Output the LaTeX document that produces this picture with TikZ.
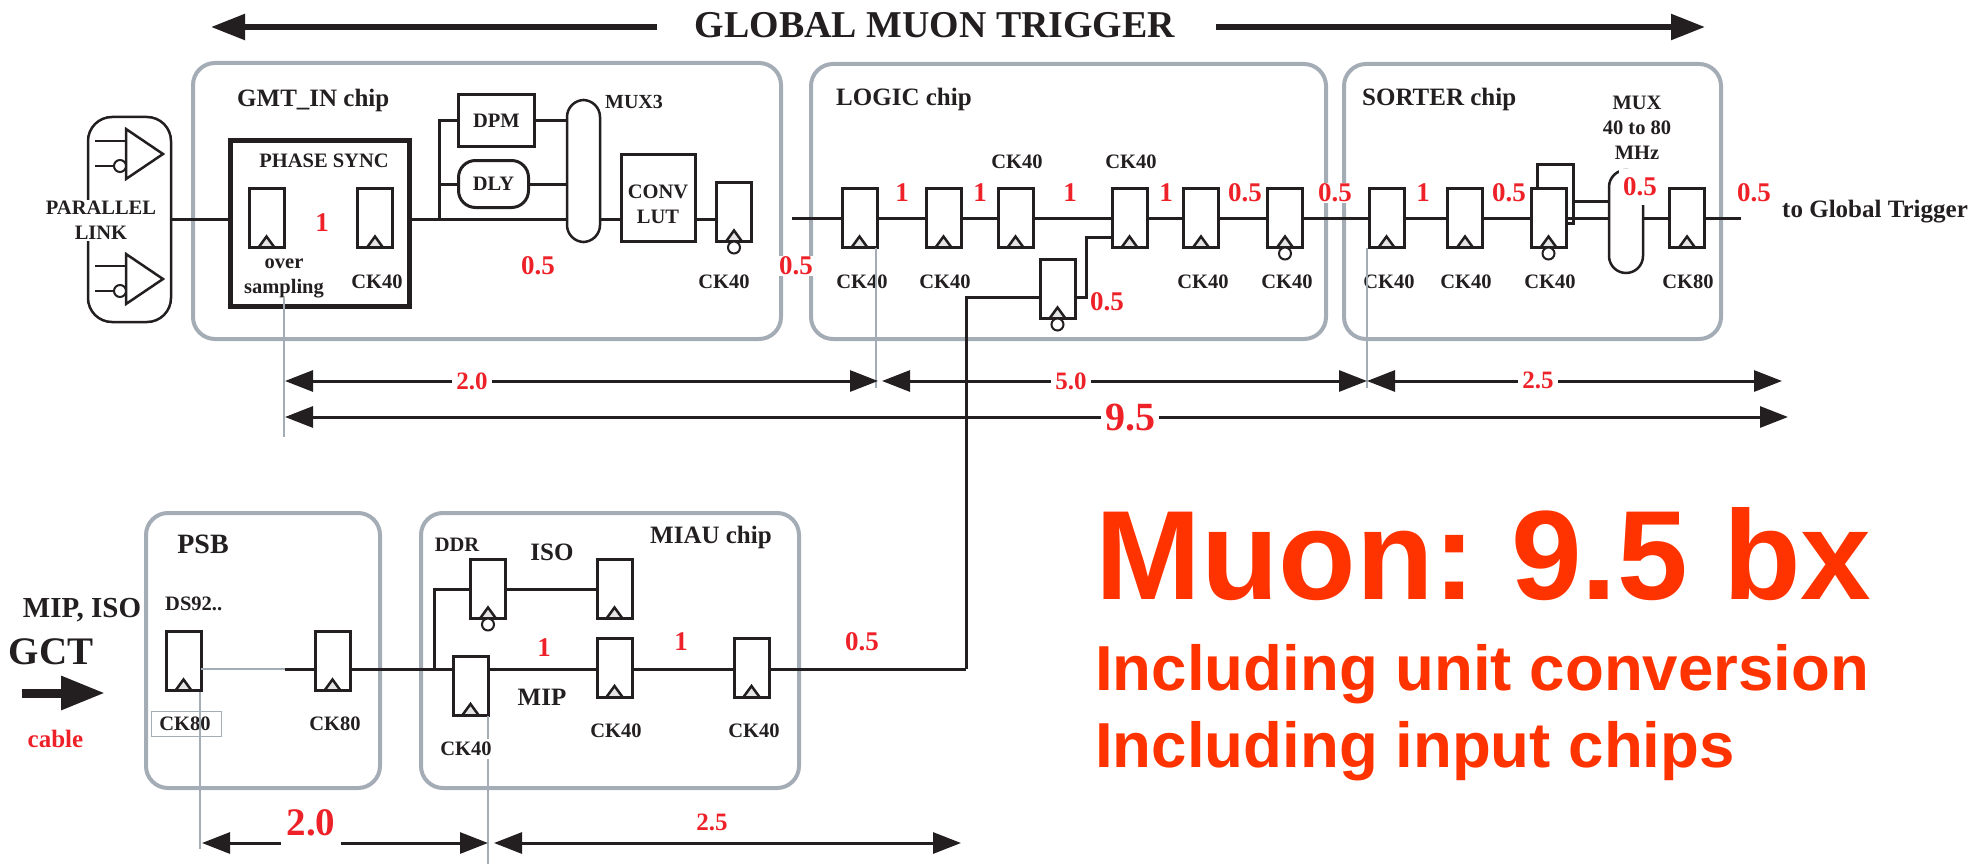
\documentclass[tikz,border=0pt]{standalone}
\usepackage{fontspec}
\setmainfont{Liberation Serif}
\newfontfamily\bigsans{Liberation Sans}
\usepackage{xcolor}
\usetikzlibrary{arrows.meta, positioning}
\definecolor{chipgray}{HTML}{A4ACB5}
\definecolor{inkblack}{HTML}{231F20}
\definecolor{delayred}{HTML}{ED2127}
\definecolor{bigred}{HTML}{FF3300}
\newcommand{\txtsize}[1]{\bfseries\fontsize{#1}{#1}\selectfont}
\tikzset{
  chipbox/.style={draw=chipgray, line width=4pt, rounded corners=22pt, anchor=north west, inner sep=0pt, outer sep=0pt},
  ffbox/.style={draw=inkblack, fill=white, line width=3pt, minimum width=35pt, minimum height=59pt, inner sep=0pt, outer sep=0pt,
    path picture={\draw[inkblack, line width=2.5pt, fill=black!10]
      ([xshift=-8pt]path picture bounding box.south) -- ([yshift=11pt]path picture bounding box.south)
      -- ([xshift=8pt]path picture bounding box.south);}},
  bubble/.style={draw=inkblack, fill=white, circle, line width=2pt, minimum size=12pt, inner sep=0pt, outer sep=0pt},
  blockbox/.style={draw=inkblack, line width=3pt, fill=white, inner sep=0pt, outer sep=0pt, anchor=north west, text=inkblack, font=\txtsize{20.5}},
  wire/.style={draw=inkblack, line width=3pt},
  graybar/.style={draw=chipgray, line width=2.5pt},
  dimline/.style={draw=inkblack, line width=3pt, {Triangle[length=28pt,width=21pt]}-{Triangle[length=28pt,width=21pt]}},
  cklabel/.style={text=inkblack, font=\txtsize{20.5}, inner sep=0pt, align=center},
  chiplabel/.style={text=inkblack, font=\txtsize{25}, inner sep=0pt},
  delay/.style={text=delayred, font=\txtsize{27}, fill=white, inner sep=1pt},
  dimtag/.style={text=delayred, font=\txtsize{25}, fill=white, inner sep=4pt},
  bigtag/.style={anchor=base west, inner sep=0pt, text=bigred},
}
\begin{document}
\frenchspacing
\begin{tikzpicture}[x=1pt, y=-1pt]
  \useasboundingbox (0,0) rectangle (1977,864);
  % ---------- TITLE ----------
  \node[text=inkblack, font=\txtsize{37.9}] (title) at (935,25) {GLOBAL MUON TRIGGER};
  \coordinate (TL) at (657,27);
  \coordinate (TLtip) at (211,27);
  \coordinate (TR) at (1216,27);
  \coordinate (TRtip) at (1705,27);
  \draw[inkblack, line width=5.5pt, -{Triangle[length=34pt,width=25pt]}] (TL) -- (TLtip);
  \draw[inkblack, line width=5.5pt, -{Triangle[length=34pt,width=25pt]}] (TR) -- (TRtip);
  % ---------- CHIP BOXES ----------
  \node[chipbox, minimum width=588pt, minimum height=276pt] (gmtchip) at (193,63) {};
  \node[chipbox, minimum width=515pt, minimum height=275pt] (logicchip) at (811,64) {};
  \node[chipbox, minimum width=377pt, minimum height=275pt] (sortchip) at (1344,64) {};
  \node[chipbox, minimum width=234pt, minimum height=275pt] (psbchip) at (146,513) {};
  \node[chipbox, minimum width=378pt, minimum height=275pt] (miauchip) at (421,513) {};
  % ---------- PARALLEL LINK ----------
  \node[draw=inkblack, line width=2.5pt, rounded corners=24pt, anchor=north west, minimum width=83pt, minimum height=205pt, inner sep=0pt, outer sep=0pt] (linkbox) at (88,117) {};
  \foreach \n/\y in {up/154,lo/279} {
    \coordinate (\n t) at (163,\y);
    \coordinate (\n a) at (126,\y-25);
    \coordinate (\n b) at (126,\y+25);
    \coordinate (\n c) at (95,\y-13);
    \coordinate (\n d) at (95,\y+12);
    \draw[inkblack, line width=2.5pt] (\n a) -- (\n t) -- (\n b) -- cycle;
    \draw[inkblack, line width=2.5pt] (\n c) -- (\n c -| \n a);
    \draw[inkblack, line width=2.5pt] (\n d) -- (\n d -| \n a);
    \node[bubble] (\n bub) at (120,\y+12) {};
  }
  \node[cklabel, fill=white, inner sep=1pt] (linktxt) at (101,220.5) {PARALLEL\\[4.5pt]LINK};
  % ---------- GMT_IN ----------
  \node[chiplabel, anchor=base west] (gmttxt) at (237,107) {GMT\_IN chip};
  \node[draw=inkblack, line width=5pt, anchor=north west, minimum width=179pt, minimum height=166pt, inner sep=0pt, outer sep=0pt] (phase) at (230.5,140.5) {};
  \node[cklabel] (phasetxt) at (324,161) {PHASE SYNC};
  \node[ffbox] (ovs) at (266.5,218) {};
  \node[ffbox] (pck) at (375,218) {};
  \node[delay] (d1) at (322,223) {1};
  \node[cklabel] (ovstxt) at (284,278) {over\\[4.5pt]sampling};
  \node[cklabel] (pcktxt) at (377,282) {CK40};
  \node[blockbox, minimum width=76pt, minimum height=52pt] (dpm) at (458.5,94.5) {DPM};
  \node[blockbox, rounded corners=17pt, minimum width=70pt, minimum height=47pt] (dly) at (458.5,160.5) {DLY};
  \node[blockbox, rounded corners=17pt, line width=2.5pt, minimum width=33pt, minimum height=142pt] (muxa) at (567,100) {};
  \node[cklabel, font=\txtsize{20}] (muxatxt) at (634,102) {MUX3};
  \node[blockbox, minimum width=74pt, minimum height=87pt] (conv) at (621.5,154.5) {};
  \node[cklabel] (convtxt) at (658,204.5) {CONV\\[4.5pt]LUT};
  \node[ffbox] (gmtout) at (734,212) {};
  \node[bubble, below=0pt of gmtout] (gmtbub) {};
  \node[cklabel] (gmtck) at (724,282) {CK40};
  \coordinate (GMTs) at (439,219);
  \draw[wire] (linkbox.east |- GMTs) -- (phase.west |- GMTs);
  \draw[wire] (phase.east |- GMTs) -- (muxa.west |- GMTs);
  \draw[wire] (muxa.east |- GMTs) -- (conv.west |- GMTs);
  \draw[wire] (conv.east |- GMTs) -- (gmtout.west |- GMTs);
  \draw[wire] (GMTs) |- (dpm.west);
  \draw[wire] (GMTs) |- (dly.west);
  \draw[wire] (dpm.east) -- (muxa.west |- dpm.east);
  \draw[wire] (dly.east) -- (muxa.west |- dly.east);
  \node[delay] (d2) at (538,266) {0.5};
  \node[delay] (d3) at (796,266) {0.5};
  % ---------- LOGIC ----------
  \node[chiplabel, anchor=base west] (logictxt) at (836,106) {LOGIC chip};
  \foreach \n/\x in {la/859.5,lb/943.5,lc/1015.5,ld/1129.5,le/1201,lf/1285} \node[ffbox] (\n) at (\x,218) {};
  \node[ffbox] (lg) at (1057.5,289) {};
  \node[bubble, below=0pt of lf] (lfbub) {};
  \node[bubble, below=0pt of lg] (lgbub) {};
  \coordinate (LOin) at (792,218);
  \coordinate (LOgate) at (1086,237);
  \coordinate (LOlow) at (1057.5,297);
  \coordinate (LOdown) at (966,669);
  \draw[wire] (LOin) -- (la.west);
  \draw[wire] (la.east) -- (lb.west);
  \draw[wire] (lb.east) -- (lc.west);
  \draw[wire] (lc.east) -- (ld.west);
  \draw[wire] (ld.east) -- (le.west);
  \draw[wire] (le.east) -- (lf.west);
  \draw[wire] (lg.east |- LOlow) -| (LOgate) -- (LOgate -| ld.west);
  \draw[wire] (lg.west |- LOlow) -| (LOdown);
  \foreach \n/\x in {ca/862,cb/945,ce/1203,cf/1287} \node[cklabel] (\n) at (\x,282) {CK40};
  \foreach \n/\x in {cc/1017,cd/1131} \node[cklabel] (\n) at (\x,162) {CK40};
  \foreach \n/\x/\t in {la1/902/1,la2/980/1,la3/1070/1,la4/1166/1,la5/1245/0.5} \node[delay, fill=none] (\n) at (\x,193) {\t};
  \node[delay] (d4) at (1107,302) {0.5};
  \node[delay] (d5) at (1335,193) {0.5};
  % ---------- SORTER ----------
  \node[chiplabel, anchor=base west] (sorttxt) at (1362,106) {SORTER chip};
  \node[draw=inkblack, line width=3pt, anchor=north west, minimum width=36pt, minimum height=59pt, inner sep=0pt, outer sep=0pt] (sortloop) at (1537,164) {};
  \foreach \n/\x in {sa/1386.5,sb/1465,sc/1548.5,sd/1687} \node[ffbox] (\n) at (\x,218) {};
  \node[bubble, below=0pt of sc] (scbub) {};
  \node[draw=inkblack, fill=white, line width=2.5pt, rounded corners=17pt, anchor=north west, minimum width=34pt, minimum height=103pt, inner sep=0pt, outer sep=0pt] (muxb) at (1609,170) {};
  \coordinate (SOloop) at (1573,201);
  \coordinate (SOend) at (1741,218);
  \draw[wire] (lf.east) -- (sa.west);
  \draw[wire] (sa.east) -- (sb.west);
  \draw[wire] (sb.east) -- (sc.west);
  \draw[wire] (sc.east) -- (muxb.west |- sc.east);
  \draw[wire] (SOloop) -- (muxb.west |- SOloop);
  \draw[wire] (muxb.east |- sd.west) -- (sd.west);
  \draw[wire] (sd.east) -- (SOend);
  \foreach \n/\x/\t in {cg/1389/CK40,ch/1466/CK40,ci/1550/CK40,cj/1688/CK80} \node[cklabel] (\n) at (\x,282) {\t};
  \node[cklabel] (muxbtxt) at (1637,127.5) {MUX\\[4.5pt]40 to 80\\[4.5pt]MHz};
  \node[delay, fill=none] (s1) at (1423,193) {1};
  \node[delay, fill=none] (s2) at (1509,193) {0.5};
  \node[delay, inner sep=0pt, minimum width=42pt, minimum height=36pt] (s3) at (1640,187) {0.5};
  \node[delay, fill=none] (s4) at (1754,193) {0.5};
  \node[chiplabel, anchor=west] (togt) at (1782,212) {to Global Trigger};
  % ---------- DIMENSIONS, TOP ----------
  \coordinate (Da) at (285,381);
  \coordinate (Db) at (878,381);
  \coordinate (Dc) at (882,381);
  \coordinate (Dd) at (1367,381);
  \coordinate (De) at (1782,381);
  \coordinate (Df) at (285,417);
  \coordinate (Dg) at (1788,417);
  \draw[graybar] (ovstxt.south -| Da) ++(-1,0) -- (284,437);
  \draw[graybar] (la.south) ++(16.5,0) -- (876,388);
  \draw[graybar] (sa.south) ++(-19.5,0) -- (1367,388);
  \draw[dimline] (Da) -- (Db);
  \draw[dimline] (Dc) -- (Dd);
  \draw[dimline] (Dd) -- (De);
  \draw[dimline] (Df) -- (Dg);
  \node[dimtag] (t20) at (472,381) {2.0};
  \node[dimtag] (t50) at (1071,381) {5.0};
  \node[dimtag] (t25) at (1538,380) {2.5};
  \node[dimtag, font=\txtsize{40}] (t95) at (1130,418) {9.5};
  % ---------- PSB ----------
  \node[chiplabel, font=\txtsize{28}] (psbtxt) at (203,544) {PSB};
  \node[chiplabel, font=\txtsize{29}] (miptxt) at (82,610) {MIP, ISO};
  \node[chiplabel, font=\txtsize{39}] (gcttxt) at (51,652) {GCT};
  \coordinate (GCTa) at (22,693);
  \coordinate (GCTb) at (105,693);
  \draw[inkblack, line width=9pt, -{Triangle[length=44pt,width=32pt]}] (GCTa) -- (GCTb);
  \node[chiplabel, text=delayred] (cabletxt) at (55.5,739) {cable};
  \node[cklabel, anchor=west] (dstxt) at (165,604) {DS92..};
  \node[ffbox] (pa) at (183.5,661) {};
  \node[ffbox] (pb) at (332.5,661) {};
  \node[draw=chipgray, line width=1pt, anchor=north west, minimum width=70pt, minimum height=25pt, inner sep=0pt] (ckframe) at (151,711) {};
  \node[cklabel] (pca) at (185,724) {CK80};
  \node[cklabel] (pcb) at (335,724) {CK80};
  % ---------- MIAU ----------
  \node[chiplabel, anchor=base west] (miautxt) at (650,543) {MIAU chip};
  \node[cklabel] (ddrtxt) at (457,545) {DDR};
  \node[chiplabel] (isotxt) at (552,552) {ISO};
  \node[chiplabel] (miplab) at (542,697) {MIP};
  \node[ffbox] (ma) at (488,589) {};
  \node[ffbox] (mb) at (614.5,589) {};
  \node[bubble, below=0pt of ma] (mabub) {};
  \node[ffbox] (mc) at (470.5,685.5) {};
  \node[ffbox] (md) at (614.5,667.5) {};
  \node[ffbox] (me) at (751.5,667.5) {};
  \coordinate (MIin) at (285,669);
  \coordinate (MIsplit) at (434,669);
  \draw[graybar] (pa.east |- MIin) -- (MIin);
  \draw[wire] (MIin) -- (pb.west |- MIin);
  \draw[wire] (pb.east |- MIin) -- (mc.west |- MIin);
  \draw[wire] (mc.east |- MIin) -- (md.west |- MIin);
  \draw[wire] (md.east |- MIin) -- (me.west |- MIin);
  \draw[wire] (me.east |- MIin) -- (LOdown);
  \draw[wire] (MIsplit) |- (ma.west);
  \draw[wire] (ma.east) -- (mb.west);
  \node[delay, fill=none] (m1) at (544,648) {1};
  \node[delay, fill=none] (m2) at (681,642) {1};
  \node[delay, fill=none] (m3) at (862,642) {0.5};
  % ---------- DIMENSIONS, BOTTOM ----------
  \coordinate (Ea) at (202,843);
  \coordinate (Eb) at (488,843);
  \coordinate (Ec) at (494,843);
  \coordinate (Ed) at (961,843);
  \draw[graybar] (200,692) -- (200,849);
  \draw[graybar] (488,716) -- (488,864);
  \node[cklabel] (mca) at (466,749) {\colorbox{white}{CK40}};
  \node[cklabel] (mcb) at (616,731) {CK40};
  \node[cklabel] (mcc) at (754,731) {CK40};
  \draw[dimline] (Ea) -- (Eb);
  \draw[dimline] (Ec) -- (Ed);
  \node[dimtag, font=\txtsize{39}, inner ysep=11pt, inner xsep=6pt] (e20) at (311,823) {2.0};
  \node[dimtag, fill=none] (e25) at (712,822) {2.5};
  % ---------- SLOGAN ----------
  \node[bigtag, font=\bigsans\txtsize{127}] (bigone) at (1095,599) {Muon: 9.5 bx};
  \node[bigtag, font=\bigsans\txtsize{63.6}] (bigtwo) at (1095,690) {Including unit conversion};
  \node[bigtag, font=\bigsans\txtsize{63.6}] (bigthree) at (1095,767) {Including input chips};
\end{tikzpicture}
\end{document}
